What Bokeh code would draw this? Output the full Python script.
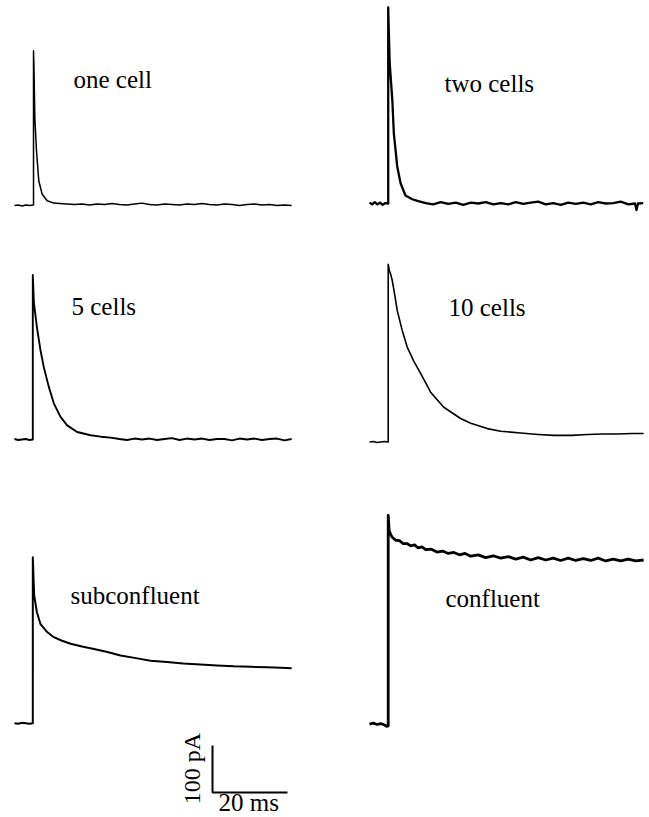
import math
from bokeh.plotting import figure
from bokeh.layouts import column, row
from bokeh.models import Label, Range1d
from bokeh.embed import file_html
from bokeh.resources import INLINE

# ---------------- data (time in ms, current in pA) ----------------
ONE_CELL_T = [0.0, 1.0, 2.0, 3.0, 4.0, 5.07, 5.07, 5.2, 5.42, 5.87, 6.48, 7.38, 8.72, 10.5,
              12.0, 14.0, 16.0, 18.0, 20.0, 22.0, 24.0, 26.0, 28.0, 30.0, 32.0, 34.0, 36.0,
              38.0, 40.0, 42.0, 44.0, 46.0, 48.0, 50.0, 52.0, 54.0, 56.0, 58.0, 60.0, 62.0,
              64.0, 66.0, 68.0, 70.0, 72.0, 73.9]
ONE_CELL_I = [-1, 0, -2, 0, -1, 0, 328, 290, 185, 115, 51, 23, 9, 4,
              3, 2, 1, 2, 0, 2, 1, 3, 1, 0, 2, 4, 1,
              0, 2, 1, 0, 2, 1, 3, 1, 0, 2, 1, -1, 1,
              2, 0, 1, -1, 0, -1]

TWO_CELLS_T = [0.0, 0.7, 1.4, 2.1, 2.8, 3.5, 4.2, 4.99, 4.99, 5.1, 5.39, 6.09, 6.49, 7.39,
               8.29, 9.59, 11.4, 13.0,
               15.0, 17.0, 19.0, 21.0, 23.0, 25.0, 27.0, 29.0, 31.0, 33.0, 35.0, 37.0, 39.0,
               41.0, 43.0, 45.0, 47.0, 49.0, 51.0, 53.0, 55.0, 57.0, 59.0, 61.0, 63.0, 65.0,
               67.0, 69.0, 70.8, 71.2, 71.6, 73.0]
TWO_CELLS_I = [2, -2, 3, -2, 2, -3, 1, 0, 417, 380, 298, 219, 149, 79,
               43, 17, 9, 5,
               1, -2, 3, -1, 2, -3, 2, 0, 3, -2, 1, -2, 3,
               -1, 2, 4, -2, 1, -3, 2, -1, 2, -2, 3, 0, 1,
               4, -2, 0, -14, 0, 1]

FIVE_CELLS_T = [0.0, 1.0, 2.0, 3.0, 4.0, 4.88, 4.88, 5.18, 6.05, 6.93, 7.81, 9.15, 10.48,
                12.27, 14.05, 16.7, 20.3, 23.0, 25.6,
                28.0, 30.0, 32.0, 34.0, 36.0, 38.0, 40.0, 42.0, 44.0, 46.0, 48.0, 50.0,
                52.0, 54.0, 56.0, 58.0, 60.0, 62.0, 64.0, 66.0, 68.0, 70.0, 72.0, 73.9]
FIVE_CELLS_I = [1, -1, 0, 1, -1, 0, 350, 290, 235, 190, 154, 112, 77,
                48, 30, 16, 9, 6, 4,
                1, -1, 2, 0, 2, -1, 1, 3, -1, 2, 0, 2,
                -1, 1, 1, -2, 2, 0, 2, -1, 1, 2, -2, 1]

TEN_CELLS_T = [0.0, 1.0, 2.0, 3.0, 4.0, 4.99, 4.99, 5.29, 5.6, 6.06, 6.8, 7.39, 8.7, 10.06,
               11.8, 13.63, 16.3, 19.8, 24.3, 27.0, 31.4, 35.0, 40.3, 45.0, 49.2, 54.0,
               58.1, 62.0, 66.0, 70.0, 73.1]
TEN_CELLS_I = [0, 1, -1, 0, 1, 0, 378, 365, 358, 344, 310, 280, 238, 202,
               172, 146, 106, 74, 50, 40, 28.5, 23, 19, 16, 14, 14,
               16, 17, 17, 18, 18]

SUBCONFLUENT_T = [0.0, 1.0, 2.0, 3.0, 4.0, 4.88, 4.88, 5.25, 5.97, 6.93, 8.71, 10.48, 12.5,
                  14.98, 18.0, 21.18, 24.5, 28.28, 32.0, 36.28, 40.68, 45.0, 49.58, 54.0,
                  58.48, 63.0, 67.38, 71.0, 73.9]
SUBCONFLUENT_I = [0, -1, 1, 0, -1, 0, 353, 272, 236, 211, 194, 183, 176,
                  169, 163, 158, 152, 144, 139, 133, 130, 127, 125, 123,
                  121, 120, 119, 118, 117]

CONFLUENT_T = [0.0, 1.0, 2.0, 3.0, 4.0, 4.6, 4.99, 4.99,
               5.24, 5.99, 6.99, 7.99, 8.99, 9.99, 10.99, 11.99, 12.99, 13.99, 14.99,
               16.49, 17.99, 19.49, 20.99, 22.49, 23.99, 25.49,
               26.99, 28.99, 30.99, 32.99, 34.99, 36.99, 38.99, 40.99, 42.99, 44.99,
               46.99, 48.99, 50.99, 52.99, 54.99, 56.99, 58.99, 60.99, 62.99, 64.99,
               66.99, 68.99, 70.99, 73.1]
CONFLUENT_I = [1, 3, 0, 2, -1, -4, -3, 445,
               412, 399, 392, 391, 385, 385, 380, 382, 376, 378, 372,
               373, 367, 369, 364, 366, 361, 364,
               358, 361, 355, 359, 354, 357, 352, 356, 350, 355,
               350, 354, 349, 354, 349, 353, 349, 354, 348, 352,
               348, 352, 348, 350]

LABELS = ["one cell", "two cells", "5 cells", "10 cells", "subconfluent", "confluent"]
SCALE_MS = 20
SCALE_PA = 100

# ---------------- layout geometry (pixels) ----------------
PX_PER_MS = 3.75
PX_PER_PA = 0.47

# (frame x0, frame y0, width, height, trace origin x, trace origin y, label x, label y, line width)
PANELS = [
    (0, 0, 324, 230, 14, 204.5, 73, 79, 1.5),
    (324, 0, 325, 230, 369, 203.0, 444, 83, 2.3),
    (0, 230, 324, 250, 14, 439.0, 71, 306, 1.9),
    (324, 230, 325, 250, 369, 441.5, 448, 307, 1.6),
    (0, 480, 324, 337, 14, 722.7, 70, 595, 2.0),
    (324, 480, 325, 337, 369, 724.0, 445, 598, 2.8),
]
SERIES = [(ONE_CELL_T, ONE_CELL_I), (TWO_CELLS_T, TWO_CELLS_I), (FIVE_CELLS_T, FIVE_CELLS_I),
          (TEN_CELLS_T, TEN_CELLS_I), (SUBCONFLUENT_T, SUBCONFLUENT_I), (CONFLUENT_T, CONFLUENT_I)]

FONT = "'Liberation Serif', 'Times New Roman', serif"

figs = []
for (fx0, fy0, w, h, ox, oy, lx, ly, lw), (t, cur), lab in zip(PANELS, SERIES, LABELS):
    assert len(t) == len(cur), lab
    p = figure(width=w, height=h, output_backend="svg", toolbar_location=None,
               x_axis_type=None, y_axis_type=None, min_border=0,
               x_range=Range1d(-(ox - fx0) / PX_PER_MS, (fx0 + w - ox) / PX_PER_MS),
               y_range=Range1d(-(fy0 + h - oy) / PX_PER_PA, (oy - fy0) / PX_PER_PA))
    p.outline_line_color = None
    p.background_fill_color = "white"
    p.border_fill_color = "white"
    p.line(t, cur, line_color="black", line_width=lw, line_join="round")
    p.add_layout(Label(x=(lx - ox) / PX_PER_MS, y=(oy - ly) / PX_PER_PA, text=lab,
                       text_font=FONT, text_font_size="25px", text_color="black",
                       text_align="left", text_baseline="alphabetic"))
    figs.append(p)

# scale bar in the subconfluent panel
p5 = figs[4]
ox5, oy5 = PANELS[4][4], PANELS[4][5]
bx = (212 - ox5) / PX_PER_MS
by = (oy5 - 792) / PX_PER_PA
p5.line([bx, bx, bx + SCALE_MS], [by + SCALE_PA, by, by], line_color="black", line_width=2)
p5.add_layout(Label(x=(191 - ox5) / PX_PER_MS, y=(oy5 - 768) / PX_PER_PA,
                    text=f"{SCALE_PA} pA", angle=math.pi / 2,
                    text_font=FONT, text_font_size="24px", text_color="black",
                    text_align="center", text_baseline="middle"))
p5.add_layout(Label(x=(218 - ox5) / PX_PER_MS, y=(oy5 - 802) / PX_PER_PA,
                    text=f"{SCALE_MS} ms",
                    text_font=FONT, text_font_size="25px", text_color="black",
                    text_align="left", text_baseline="alphabetic"))

layout = column(row(figs[0], figs[1]), row(figs[2], figs[3]), row(figs[4], figs[5]))
open("out.html", "w").write(file_html(layout, INLINE))
